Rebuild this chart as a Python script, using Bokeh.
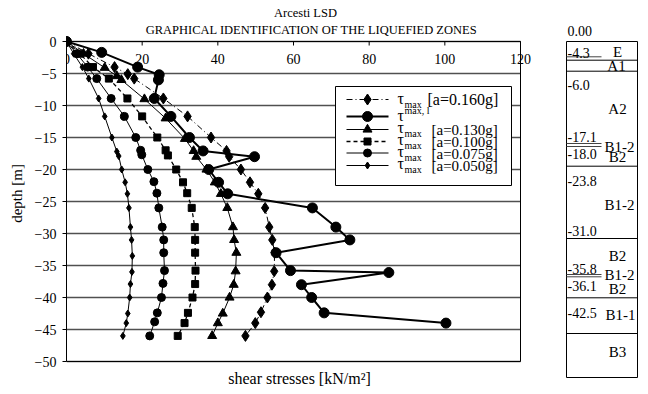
from bokeh.plotting import figure
from bokeh.models import Range1d, FixedTicker
from bokeh.core.properties import value
from bokeh.embed import file_html
from bokeh.resources import INLINE

SERIF = "Liberation Serif"

# ---------------- data ----------------
title1 = "Arcesti LSD"
title2 = "GRAPHICAL IDENTIFICATION OF THE LIQUEFIED ZONES"
x_label = "shear stresses [kN/m²]"
y_label = "depth [m]"
x_ticks = [0, 20, 40, 60, 80, 100, 120]
y_ticks = [0, -5, -10, -15, -20, -25, -30, -35, -40, -45, -50]

d_160 = [0, -1.9, -4.0, -5.1, -5.8, -8.9, -11.7, -15.0, -17.1, -18.0, -20.0, -22.0, -23.8, -26.0,
         -29.0, -31.0, -33.0, -35.9, -38.0, -40.0, -42.3, -44.0, -46.0]
t_160 = [0, 5.8, 12.7, 16.2, 17.9, 25.6, 32.0, 38.2, 42.3, 43.0, 46.1, 48.5, 50.7, 52.5,
         53.6, 54.4, 55.0, 54.9, 54.3, 53.1, 51.4, 49.9, 47.3]

d_lim = [0, -1.7, -4.0, -5.2, -6.0, -8.9, -11.7, -15.0, -17.1, -18.0, -20.0, -22.0, -23.8, -26.0,
         -29.0, -31.0, -33.0, -35.8, -36.1, -38.0, -40.0, -42.4, -44.0]
t_lim = [0, 9.3, 18.8, 24.5, 24.3, 23.2, 27.6, 32.5, 36.1, 49.7, 37.6, 40.2, 42.6, 65.0,
         71.2, 74.9, 55.4, 59.2, 85.2, 62.1, 64.8, 68.1, 100.3]

d_130 = [0, -1.9, -4.1, -5.4, -6.0, -9.0, -12.0, -15.2, -17.1, -18.0, -20.0, -22.0, -23.8, -26.0,
         -29.0, -31.0, -33.0, -35.9, -38.0, -40.0, -42.5, -44.0, -46.0]
t_130 = [0, 4.5, 10.1, 13.3, 14.5, 20.6, 26.2, 31.3, 33.6, 34.3, 37.0, 39.2, 40.8, 42.5,
         44.0, 44.3, 44.9, 44.7, 44.2, 43.1, 41.3, 40.0, 38.5]

d_100 = [0, -1.9, -4.0, -5.8, -8.9, -11.7, -15.0, -17.0, -17.8, -20.0, -22.0, -23.7, -26.0,
         -29.0, -31.0, -33.0, -35.8, -37.9, -40.0, -42.4, -44.0, -46.0]
t_100 = [0, 3.5, 7.0, 11.2, 16.1, 20.0, 24.0, 26.2, 26.8, 29.0, 30.8, 31.9, 33.1,
         33.9, 34.0, 34.0, 34.1, 34.0, 33.3, 32.1, 31.2, 29.4]

d_075 = [0, -1.9, -4.0, -5.8, -8.9, -11.7, -15.0, -17.0, -17.7, -20.0, -21.9, -23.7, -26.0,
         -29.0, -31.0, -33.0, -35.8, -37.8, -40.0, -42.4, -43.8, -46.0]
t_075 = [0, 2.7, 5.6, 8.0, 11.8, 15.3, 18.3, 19.6, 19.9, 21.5, 23.1, 23.9, 24.4,
         25.3, 25.7, 25.7, 25.9, 25.5, 25.1, 24.0, 23.3, 22.0]

d_050 = [0, -1.9, -4.0, -5.8, -8.9, -11.7, -15.0, -17.2, -17.9, -20.0, -22.0, -23.8, -26.0,
         -29.0, -31.0, -33.5, -36.0, -37.9, -40.0, -42.5, -44.0, -46.0]
t_050 = [0, 1.9, 4.2, 5.9, 8.5, 10.1, 12.0, 13.3, 13.8, 14.6, 15.5, 16.1, 16.5,
         16.9, 17.2, 17.4, 17.3, 16.9, 16.7, 16.2, 15.8, 14.9]

legend_sub = ["max", "max, l", "max", "max", "max", "max"]
legend_tail = ["[a=0.160g]", "", "[a=0.130g]", "[a=0.100g]", "[a=0.075g]", "[a=0.050g]"]

layer_depths = ["0.00", "-4.3", "-6.0", "-17.1", "-18.0", "-23.8", "-31.0", "-35.8", "-36.1", "-42.5"]
layer_names = ["E", "A1", "A2", "B1-2", "B2", "B1-2", "B2", "B1-2", "B2", "B1-1", "B3"]

# ---------------- layout (page pixels) ----------------
ORG = 1                      # page position of the canvas origin
W, H = 646, 386
ML = 66                      # left panel for the y axis
PL, PR, PT, PB = 67, 521, 42, 362   # plot area on the page
SX = (PR - PL) / 120.0
SY = (PB - PT) / 50.0


def X(px):
    return (px - PL) / SX


def Y(py):
    return -(py - PT) / SY


p = figure(width=W, height=H, title=None,
           x_range=Range1d(X(ORG + ML), X(ORG + W)), y_range=Range1d(Y(ORG + H), Y(ORG)),
           x_axis_location=None, y_axis_location="left",
           output_backend="svg", toolbar_location=None,
           min_border_left=ML, min_border_right=0, min_border_top=0, min_border_bottom=0)
p.background_fill_color = "white"
p.border_fill_color = "white"
p.outline_line_color = None
p.xgrid.visible = False
p.ygrid.visible = False

ax = p.yaxis[0]
ax.bounds = (-50, 0)
ax.ticker = FixedTicker(ticks=y_ticks)
ax.major_tick_in = 0
ax.major_tick_out = 4
ax.minor_tick_line_color = None
ax.major_label_standoff = 6
ax.major_label_text_font = SERIF
ax.major_label_text_font_size = "14px"
ax.major_label_text_color = "black"
ax.axis_label = y_label
ax.axis_label_text_font = SERIF
ax.axis_label_text_font_size = "15px"
ax.axis_label_text_font_style = "normal"
ax.axis_label_text_color = "black"
ax.axis_label_standoff = 7
ax.axis_line_color = "black"

# horizontal grid lines over the plot area
p.segment(x0=[0] * len(y_ticks), x1=[120] * len(y_ticks), y0=y_ticks, y1=y_ticks,
          line_color="#505050", line_width=1.3)
# plot border
p.quad(left=[0], right=[120], top=[0], bottom=[-50], fill_color=None, line_color="black", line_width=1)
# x ticks (inward from the top edge) and their labels
tick_len = 4 / SY
p.segment(x0=x_ticks, x1=x_ticks, y0=[0] * len(x_ticks), y1=[-tick_len] * len(x_ticks),
          line_color="black", line_width=1)
p.text(x=x_ticks, y=[Y(59)] * len(x_ticks), text=[str(v) for v in x_ticks], text_align="center",
       text_baseline="middle", text_font=value(SERIF), text_font_size="14px", text_color="black")

# titles and x-axis label
p.text(x=[X(306)], y=[Y(13)], text=[title1], text_align="center", text_baseline="middle",
       text_font=value(SERIF), text_font_size="12.5px", text_color="black")
p.text(x=[X(312)], y=[Y(30)], text=[title2], text_align="center", text_baseline="middle",
       text_font=value(SERIF), text_font_size="12.5px", text_color="black")
p.text(x=[X(300)], y=[Y(379)], text=[x_label], text_align="center", text_baseline="middle",
       text_font=value(SERIF), text_font_size="16px", text_color="black")

series = [
    (t_160, d_160, "diamond", 11, "6 3 1 3", 1.0),
    (t_lim, d_lim, "circle", 10, "solid", 2.0),
    (t_130, d_130, "triangle", 9, "solid", 1.0),
    (t_100, d_100, "square", 7, "4 3", 1.3),
    (t_075, d_075, "circle", 8, "solid", 1.0),
    (t_050, d_050, "diamond", 7, "solid", 1.0),
]
for xs, ys, mk, sz, dash, lw in series:
    p.line(xs, ys, line_color="black", line_width=lw, line_dash=dash)
    p.scatter(xs, ys, marker=mk, size=sz, fill_color="black", line_color="black")

# ---------------- legend ----------------
p.quad(left=[X(336)], right=[X(512)], top=[Y(87)], bottom=[Y(186)],
       fill_color="white", line_color="black", line_width=1)
row_y = [100, 117, 130, 142, 153.5, 166]
tau_y = [99, 116, 128, 140, 152, 164]
sub_y = [105, 111, 134, 146, 158, 170]
tail_y = [100, 0, 130.5, 142.5, 154.5, 166.5]
tail_x = [428, 0, 432, 432, 432, 432]
for i, (xs, ys, mk, sz, dash, lw) in enumerate(series):
    yy = Y(row_y[i])
    p.line([X(347), X(389)], [yy, yy], line_color="black", line_width=lw, line_dash=dash)
    p.scatter([X(368)], [yy], marker=mk, size=sz, fill_color="black", line_color="black")
    p.text(x=[X(398)], y=[Y(tau_y[i])], text=["τ"], text_baseline="middle",
           text_font=value(SERIF), text_font_size="16px", text_color="black")
    p.text(x=[X(405)], y=[Y(sub_y[i])], text=[legend_sub[i]], text_baseline="middle",
           text_font=value(SERIF), text_font_size="10px", text_color="black")
    if legend_tail[i]:
        p.text(x=[X(tail_x[i])], y=[Y(tail_y[i])], text=[legend_tail[i]], text_baseline="middle",
               text_font=value(SERIF), text_font_size="16px" if i == 0 else "15px",
               text_color="black")

# ---------------- soil column (schematic table, page pixels) ----------------
box_l, box_r, box_t, box_b = 567, 638, 42, 378
p.quad(left=[X(box_l)], right=[X(box_r)], top=[Y(box_t)], bottom=[Y(box_b)], fill_color=None,
       line_color="black", line_width=1)
full_lines = [60.7, 71.7, 166.7, 239, 298.3, 334]
p.segment(x0=[X(box_l)] * len(full_lines), x1=[X(box_r)] * len(full_lines),
          y0=[Y(v) for v in full_lines], y1=[Y(v) for v in full_lines],
          line_color="black", line_width=1)
part_lines = [57.3, 144, 147, 275, 277.3]
p.segment(x0=[X(box_l)] * len(part_lines), x1=[X(602)] * len(part_lines),
          y0=[Y(v) for v in part_lines], y1=[Y(v) for v in part_lines],
          line_color="#444444", line_width=1)

depth_y = [31, 53, 85, 137, 154, 181.7, 231.7, 269.3, 286.7, 313.3]
p.text(x=[X(568)] * len(layer_depths), y=[Y(v) for v in depth_y], text=layer_depths,
       text_baseline="middle", text_font=value(SERIF), text_font_size="14px", text_color="black")
name_y = [52, 66.5, 109, 147, 157.5, 205, 256.7, 275, 289, 315.7, 352.3]
name_x = [618, 617, 618, 620, 618, 620, 618, 620, 618, 621, 618]
p.text(x=[X(v) for v in name_x], y=[Y(v) for v in name_y], text=layer_names, text_align="center",
       text_baseline="middle", text_font=value(SERIF), text_font_size="15px", text_color="black")

open("out.html", "w").write(file_html(p, INLINE))
